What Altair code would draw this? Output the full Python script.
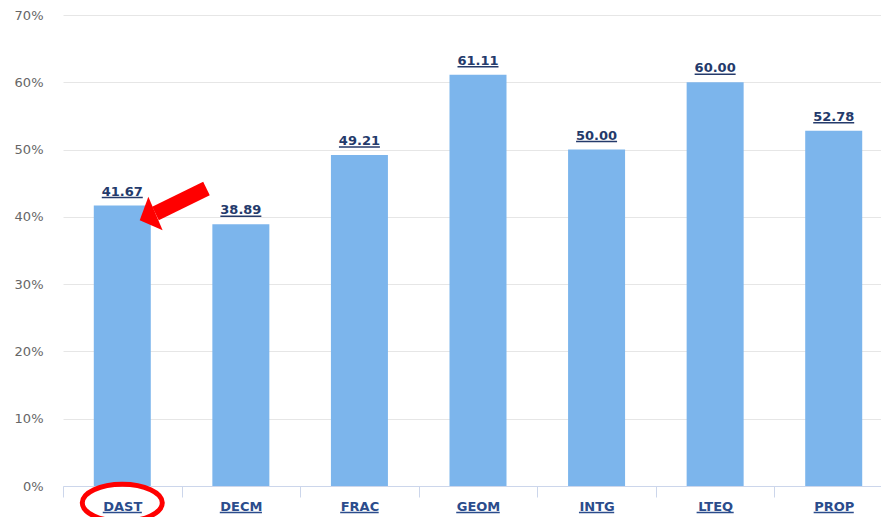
import altair as alt
import pandas as pd

# ---- data ----
categories = ["DAST", "DECM", "FRAC", "GEOM", "INTG", "LTEQ", "PROP"]
values = [41.67, 38.89, 49.21, 61.11, 50.00, 60.00, 52.78]
y_ticks = [0, 10, 20, 30, 40, 50, 60, 70]

# annotation positions in data units (x in category units, DAST centre = 0.5)
arrow_tail = (1.21, 44.2)
arrow_base = (0.78, 40.5)
circle_at = (0.5, -2.5)

# ---- style ----
FONT = "DejaVu Sans"
BAR = "#7cb5ec"
VAL_COLOR = "#243a6b"
CAT_COLOR = "#2b4c8c"
RED = "#ff0000"
W, H, XR = 818, 471, 830

# DejaVu Sans Bold glyph widths (em) for underline lengths
glyph = {"A": .774, "C": .734, "D": .830, "E": .683, "F": .683, "G": .821,
         "I": .372, "L": .637, "M": .995, "N": .837, "O": .850, "P": .733,
         "Q": .850, "R": .770, "S": .720, "T": .682}
uw = [sum(glyph[c] for c in s) * 13 for s in categories]

df = pd.DataFrame({"cat": categories, "val": values, "uw": uw})

x = alt.X("cat:N", sort=categories,
          scale=alt.Scale(range=[0, XR], paddingInner=0, paddingOuter=0),
          axis=alt.Axis(title=None, labelAngle=0, labelFont=FONT, labelFontSize=13,
                        labelFontWeight="bold", labelColor=CAT_COLOR, labelPadding=3,
                        tickSize=11, tickColor="#ccd6eb", domainColor="#ccd6eb",
                        tickBand="extent", grid=False))
y_axis = alt.Axis(title=None, values=y_ticks, labelExpr="datum.value + '%'",
                  labelFont=FONT, labelFontSize=13, labelColor="#666666",
                  ticks=False, domain=False, gridColor="#e6e6e6",
                  labelPadding=20)
y_scale = alt.Scale(domain=[0, 70], nice=False)
y = alt.Y("val:Q", scale=y_scale, axis=y_axis)

base = alt.Chart(df)
bars = base.mark_bar(width=57, color=BAR).encode(x=x, y=y)
labels = base.mark_text(dy=-10, baseline="alphabetic", font=FONT, fontSize=13,
                        fontWeight="bold", color=VAL_COLOR).encode(
    x=x, y=y, text=alt.Text("val:Q", format=".2f"))
val_ul = base.mark_tick(size=41, thickness=1.5, yOffset=-8, color=VAL_COLOR,
                        opacity=1).encode(x=x, y=y)
cat_ul = base.mark_tick(thickness=1.5, color=CAT_COLOR, opacity=1).encode(
    x=x, y=alt.datum(-3.95), size=alt.Size("uw:Q", scale=None))

main = alt.layer(bars, labels, val_ul, cat_ul)

# ---- annotations ----
ax = alt.Scale(domain=[0, 7], range=[0, XR])
shaft_df = pd.DataFrame({"x": [arrow_tail[0]], "x2": [arrow_base[0]],
                         "val": [arrow_tail[1]], "y2": [arrow_base[1]]})
shaft = alt.Chart(shaft_df).mark_rule(color=RED, strokeWidth=15, strokeCap="butt").encode(
    x=alt.X("x:Q", scale=ax, axis=None), x2="x2:Q",
    y=y, y2="y2:Q")

head_path = "M0,-0.94L1,0L-1,0Z"
head_df = pd.DataFrame({"x": [arrow_base[0]], "val": [arrow_base[1]]})
head = alt.Chart(head_df).mark_point(shape=head_path, size=1330, filled=True,
                                     angle=247, color=RED, opacity=1,
                                     strokeWidth=0).encode(
    x=alt.X("x:Q", scale=ax, axis=None), y=y)

b = 0.4625
k = 0.5523
ell = (f"M-1,0C-1,{-k*b:.4f},{-k:.4f},{-b},0,{-b}"
       f"C{k:.4f},{-b},1,{-k*b:.4f},1,0"
       f"C1,{k*b:.4f},{k:.4f},{b},0,{b}"
       f"C{-k:.4f},{b},-1,{k*b:.4f},-1,0Z")
circ_df = pd.DataFrame({"x": [circle_at[0]], "val": [circle_at[1]]})
circ = alt.Chart(circ_df).mark_point(shape=ell, size=6400, filled=False,
                                     strokeWidth=5, color=RED, opacity=1).encode(
    x=alt.X("x:Q", scale=ax, axis=None), y=y)

ann = alt.layer(shaft, head, circ)

chart = alt.layer(main, ann).resolve_scale(x="independent").properties(
    width=W, height=H,
    autosize=alt.AutoSizeParams(type="none"),
    padding={"left": 55, "top": 7, "right": 0, "bottom": 31},
    background="white",
).configure_view(stroke=None)

chart.save("out.html", embed_options={"renderer": "svg", "actions": False})
